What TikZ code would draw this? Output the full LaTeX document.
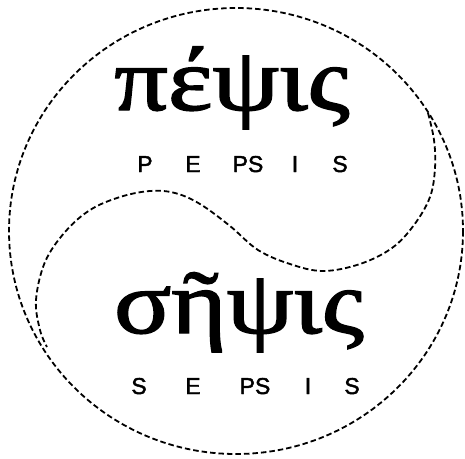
\documentclass[tikz,border=0pt]{standalone}
\usepackage{graphicx}
\usepackage{fontspec}
\setmainfont{Liberation Serif}
\newfontfamily\greekserif[FakeBold=1.6]{Liberation Serif}
\newfontfamily\latinsans[FakeBold=1.8]{Liberation Sans}
\usepackage{tikz}
\tikzstyle{dashline}=[dash pattern=on 5.5pt off 3pt,line width=1.8pt]
\tikzstyle{greekword}=[inner sep=0pt,anchor=base,font=\greekserif\fontsize{90}{90}\selectfont]
\tikzstyle{translit}=[inner sep=0pt,anchor=base,font=\latinsans\fontsize{23}{23}\selectfont]

\begin{document}
\begin{tikzpicture}[x=1pt,y=-1pt]
  \useasboundingbox (0,0) rectangle (465,458);
  % outer ring
  \draw[dashline] (236,231) ellipse [x radius=227,y radius=223];
  % the S-shaped divide
  \draw[dashline] plot[smooth,tension=0.6] coordinates {
    (428,113) (434,140) (435,168) (430,197) (414,225) (392,248) (360,264)
    (323,271) (290,264) (258,250) (230,226) (200,204) (175,193) (150,191)
    (120,197) (90,210) (65,232) (45,262) (36,300) (40,330) (47,347)};

  \node[greekword] (pepsis) at (232,110) {\scalebox{1.18}[1]{πέψις}};
  \node[greekword] (sepsis) at (239,333) {\scalebox{1.18}[1]{σῆψις}};

  \foreach \t/\px [count=\i] in {P/145,E/193,PS/248,I/295,S/340}
    \node[translit] (pep\i) at (\px,172) {\t};
  \foreach \t/\px [count=\i] in {S/139,E/193,PS/255,I/308,S/352}
    \node[translit] (sep\i) at (\px,394) {\t};
\end{tikzpicture}
\end{document}
